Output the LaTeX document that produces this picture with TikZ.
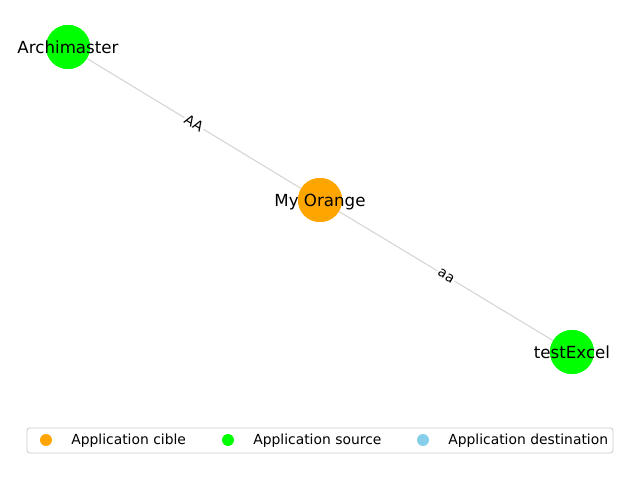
\documentclass[tikz,border=0pt]{standalone}
\usepackage{fontspec}
\setmainfont{DejaVu Sans}
\definecolor{corange}{HTML}{FFA500}
\definecolor{clime}{HTML}{00FF00}
\definecolor{csky}{HTML}{87CEEB}
\definecolor{cedge}{HTML}{D3D3D3}
\definecolor{clegend}{HTML}{CCCCCC}
\begin{document}
\begin{tikzpicture}[x=0.72pt,y=-0.72pt,
  appnode/.style={circle,minimum size=31.7pt,inner sep=0pt,draw=none},
  nlabel/.style={font=\fontsize{12}{14}\selectfont,inner sep=0pt,anchor=base},
  elabel/.style={font=\fontsize{10}{12}\selectfont,fill=white,inner sep=1pt,sloped},
  edgeline/.style={draw=cedge,line width=0.72pt},
  lmark/.style={circle,minimum size=8.6pt,inner sep=0pt},
  ltext/.style={font=\fontsize{10}{12}\selectfont,anchor=base west,inner sep=0pt}]
\useasboundingbox (0,0) rectangle (640,480);
\fill[white] (0,0) rectangle (640,480);
% nodes
\node[appnode,fill=clime] (arch) at (68,47) {};
\node[appnode,fill=corange] (orange) at (320,200) {};
\node[appnode,fill=clime] (excel) at (572,352) {};
% edges
\draw[edgeline] (arch.center) -- node[elabel] {AA} (orange.center);
\draw[edgeline] (orange.center) -- node[elabel] {aa} (excel.center);
% redraw nodes on top
\fill[clime] (arch) circle (15.85pt);
\fill[corange] (orange) circle (15.85pt);
\fill[clime] (excel) circle (15.85pt);
\node[nlabel] (archl) at (68,53) {Archimaster};
\node[nlabel] (orangel) at (320,206) {My Orange};
\node[nlabel] (excell) at (572,358) {testExcel};
% legend
\node[draw=clegend,rounded corners=2pt,line width=0.6pt,minimum width=586*0.72pt,minimum height=25*0.72pt,inner sep=0pt] (legend) at (320,440.5) {};
\node[lmark,fill=corange] (m1) at (46,440) {};
\node[ltext] (t1) at (71,444.5) {Application cible};
\node[lmark,fill=clime] (m2) at (228,440) {};
\node[ltext] (t2) at (253,444.5) {Application source};
\node[lmark,fill=csky] (m3) at (423,440) {};
\node[ltext] (t3) at (448,444.5) {Application destination};
\end{tikzpicture}
\end{document}
